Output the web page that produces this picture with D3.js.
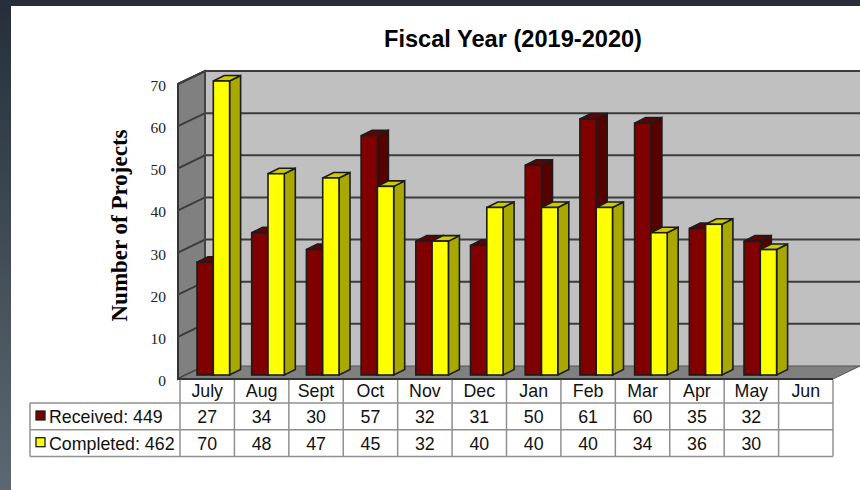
<!DOCTYPE html>
<html>
<head>
<meta charset="utf-8">
<script src="https://cdn.jsdelivr.net/npm/d3@7"></script>
<style>
html,body{margin:0;padding:0;background:#fff;overflow:hidden}
svg{display:block}
</style>
</head>
<body>
<svg id="chart" width="860" height="490"></svg>
<script>
const months = ["July","Aug","Sept","Oct","Nov","Dec","Jan","Feb","Mar","Apr","May","Jun"];
const received = [27,34,30,57,32,31,50,61,60,35,32,null];
const completed = [70,48,47,45,32,40,40,40,34,36,30,null];
const receivedTotal = 449;
const completedTotal = 462;
const yTicks = [0,10,20,30,40,50,60,70];
const titleText = "Fiscal Year (2019-2020)";
const yTitle = "Number of Projects";

const svg = d3.select("#chart");
const sans = "'Liberation Sans', Arial, sans-serif";
const serif = "'Liberation Serif', 'Times New Roman', serif";
const edge = "#1c1c1c";

// Slide backdrop: dark strips along the top and left edges
const defs = svg.append("defs");
const grad = defs.append("linearGradient").attr("id","strip").attr("x1",0).attr("y1",0).attr("x2",0).attr("y2",1);
grad.append("stop").attr("offset",0).attr("stop-color","#262f39");
grad.append("stop").attr("offset",1).attr("stop-color","#5c6871");
svg.append("rect").attr("width",860).attr("height",6).attr("fill","#262f39");
svg.append("rect").attr("y",0).attr("width",11).attr("height",490).attr("fill","url(#strip)");

// Chart geometry: table columns and bar slots run on slightly different spans
const x = d3.scaleBand().domain(months).range([180,833]);
const xBars = d3.scaleBand().domain(months).range([180,836.4]);
const y = d3.scaleLinear().domain([0,70]).range([379,84]);
const wall = {dx:27, dy:-13};
const barDepth = {dx:11, dy:-5.5};
const barW = 16.3, barInset = 17, barLift = 4;

const left = x.range()[0]-2, right = x.range()[1];
const poly = pts => pts.map(p=>p.join(",")).join(" ");

// Walls and floor
const walls = svg.append("g");
walls.append("polygon")
  .attr("points",poly([[left+wall.dx,y(70)+wall.dy],[870,y(70)+wall.dy],[870,y(0)+wall.dy],[left+wall.dx,y(0)+wall.dy]]))
  .attr("fill","#c0c0c0");
walls.append("polygon")
  .attr("points",poly([[left,y(70)],[left+wall.dx,y(70)+wall.dy],[left+wall.dx,y(0)+wall.dy],[left,y(0)]]))
  .attr("fill","#808080").attr("stroke","#333").attr("stroke-width",2);
walls.append("polygon")
  .attr("points",poly([[left,y(0)],[left+wall.dx,y(0)+wall.dy],[right+wall.dx,y(0)+wall.dy],[right,y(0)]]))
  .attr("fill","#808080").attr("stroke","#555").attr("stroke-width",1);

// Gridlines wrap from the side wall onto the back wall
walls.selectAll("polyline.grid").data(yTicks.filter(d=>d>0)).join("polyline")
  .attr("class","grid")
  .attr("points",d=>poly([[left,y(d)],[left+wall.dx,y(d)+wall.dy],[870,y(d)+wall.dy]]))
  .attr("fill","none").attr("stroke","#3c3c3c").attr("stroke-width",2);
walls.append("line")
  .attr("x1",left).attr("x2",right).attr("y1",y(0)).attr("y2",y(0))
  .attr("stroke","#333").attr("stroke-width",2);
walls.append("line")
  .attr("x1",left+wall.dx).attr("x2",left+wall.dx).attr("y1",y(70)+wall.dy).attr("y2",y(0)+wall.dy)
  .attr("stroke","#555").attr("stroke-width",1);

// One 3-D bar: side face, top face, front face
function bar3d(g, x0, value, colors){
  const top = y(value)-barLift+1, bottom = y(0)-barLift;
  const x1 = x0+barW, d = barDepth;
  g.append("polygon").attr("points",poly([[x1,top],[x1+d.dx,top+d.dy],[x1+d.dx,bottom+d.dy],[x1,bottom]]))
    .attr("fill",colors.side).attr("stroke",edge).attr("stroke-width",1.6);
  g.append("polygon").attr("points",poly([[x0,top],[x0+d.dx,top+d.dy],[x1+d.dx,top+d.dy],[x1,top]]))
    .attr("fill",colors.top).attr("stroke",edge).attr("stroke-width",1.6);
  g.append("rect").attr("x",x0).attr("y",top).attr("width",barW).attr("height",bottom-top)
    .attr("fill",colors.front).attr("stroke",edge).attr("stroke-width",1.6);
}
const redFaces = {front:"#800000", side:"#560000", top:"#660000"};
const yellowFaces = {front:"#ffff00", side:"#a8a800", top:"#cccc00"};
const bars = svg.append("g");
months.forEach((m,i)=>{
  const g = bars.append("g");
  if(received[i]!=null) bar3d(g, xBars(m)+barInset, received[i], redFaces);
  if(completed[i]!=null) bar3d(g, xBars(m)+barInset+barW, completed[i], yellowFaces);
});

// Value axis
const axis = svg.append("g").attr("transform","translate(172,1.5)")
  .call(d3.axisLeft(y).tickValues(yTicks).tickSize(0).tickPadding(6));
axis.select(".domain").remove();
axis.selectAll("text").attr("font-family",serif).attr("font-size",15.5).attr("fill","#222");

// Titles
svg.append("text").attr("x",513).attr("y",47).attr("text-anchor","middle")
  .attr("font-family",sans).attr("font-weight","bold").attr("font-size",23.6).attr("fill","#000").text(titleText);
svg.append("text").attr("transform","translate(127,225.5) rotate(-90)").attr("text-anchor","middle")
  .attr("font-family",serif).attr("font-weight","bold").attr("font-size",23).attr("fill","#000").text(yTitle);

// Data table beneath the plot
const rowTop = 403, rowH = 26.7, tableLeft = 30, tableRight = right;
const tbl = svg.append("g").attr("stroke","#909090").attr("stroke-width",1.5);
[rowTop,rowTop+rowH,rowTop+2*rowH].forEach(ly=>{
  tbl.append("line").attr("x1",tableLeft).attr("x2",tableRight).attr("y1",ly).attr("y2",ly);
});
tbl.append("line").attr("x1",tableLeft).attr("x2",tableLeft).attr("y1",rowTop).attr("y2",rowTop+2*rowH);
months.forEach(m=>{
  tbl.append("line").attr("x1",x(m)).attr("x2",x(m)).attr("y1",y(0)+1).attr("y2",rowTop+2*rowH);
});
tbl.append("line").attr("x1",tableRight).attr("x2",tableRight).attr("y1",y(0)+1).attr("y2",rowTop+2*rowH);

const cell = (tx,ty,s,anchor="middle") => svg.append("text").attr("x",tx).attr("y",ty)
  .attr("text-anchor",anchor).attr("font-family",sans).attr("font-size",17.8).attr("fill","#111").text(s);
months.forEach((m,i)=>{
  const cx = x(m)+x.bandwidth()/2;
  cell(cx,rowTop-6,m);
  if(received[i]!=null) cell(cx,rowTop+20,received[i]);
  if(completed[i]!=null) cell(cx,rowTop+rowH+20,completed[i]);
});
[[`Received: ${receivedTotal}`,rowTop,redFaces.front],[`Completed: ${completedTotal}`,rowTop+rowH,yellowFaces.front]].forEach(([s,ly,c])=>{
  svg.append("rect").attr("x",36).attr("y",ly+8).attr("width",9).attr("height",9)
    .attr("fill",c).attr("stroke",edge).attr("stroke-width",1.3);
  cell(49,ly+20,s,"start");
});
</script>
</body>
</html>
